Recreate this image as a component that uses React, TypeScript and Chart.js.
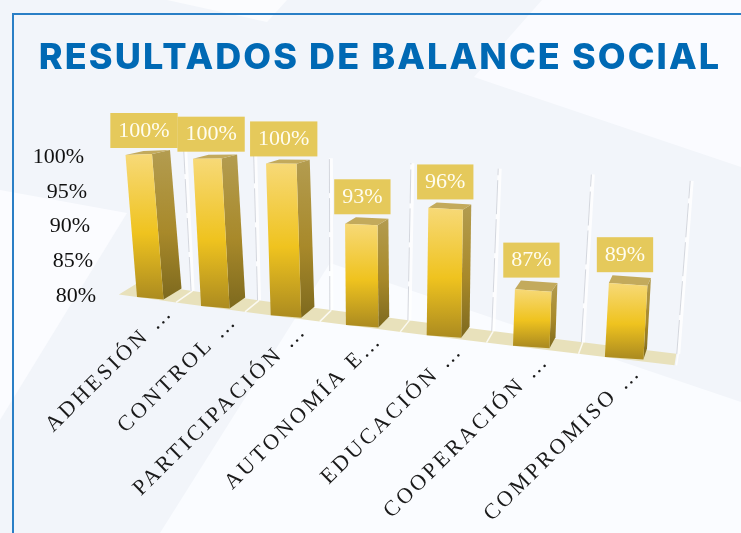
import React, { useEffect, useRef } from "react";
import { Chart, registerables } from "chart.js";

Chart.register(...registerables);

const categories = ["ADHESIÓN …", "CONTROL …", "PARTICIPACIÓN …", "AUTONOMÍA E…", "EDUCACIÓN …", "COOPERACIÓN …", "COMPROMISO …"];
const values = [100, 100, 100, 93, 96, 87, 89];
const TITLE = "RESULTADOS DE BALANCE SOCIAL";
const SERIF = '"Liberation Serif", serif';

// Perspective of the picture: u = category position on the x scale, v = 0..1 on the y scale
const baseX = (u: number) => 137 + 61.3 * u + 2.78 * u * u;
const baseY = (u: number) => 297 + 8.67 * u + 0.22 * u * u;
const unitH = (u: number) => 142 + 5.5 * u - 0.3 * u * u;
const frontW = (u: number) => 26.5 + 2 * u;
const lean = (u: number) => 11.5 - 3.4 * u;
const depthX = (u: number) => 18 - 2.4 * u;
const depthY = (v: number) => -(11 - 7 * v);

function project(u: number, f: number, v: number, d: number): [number, number] {
  const dy = f * (2.5 * (1 - v) + (-1 + 0.7 * u) * v);
  return [
    baseX(u) + f * frontW(u) - lean(u) * v + d * depthX(u),
    baseY(u) - unitH(u) * v + dy + d * depthY(v),
  ];
}

function poly(ctx: CanvasRenderingContext2D, pts: [number, number][], fill: string | CanvasGradient) {
  ctx.beginPath();
  pts.forEach((p, i) => (i ? ctx.lineTo(p[0], p[1]) : ctx.moveTo(p[0], p[1])));
  ctx.closePath();
  ctx.fillStyle = fill;
  ctx.fill();
}

const perspectivePlugin = {
  id: "perspective",
  beforeDraw(chart: any) {
    chart.ctx.letterSpacing = "2.1px";
  },
  beforeDatasetsDraw(chart: any) {
    const ctx = chart.ctx as CanvasRenderingContext2D;
    ctx.letterSpacing = "0px";
    ctx.save();
    ctx.filter = "blur(0.5px)";
    // floor
    const us: number[] = [];
    for (let k = 0; k <= 14; k++) us.push(-0.3 + (k * 7.02) / 14);
    const front = us.map((u) => [baseX(u), baseY(u)] as [number, number]);
    const back = us.slice().reverse().map((u) => [baseX(u) + depthX(u), baseY(u) - 11.5] as [number, number]);
    poly(ctx, [...front, ...back], "#e8e1bb");
    // gridlines at the category boundaries of the x scale
    const xs = chart.scales.x;
    const area = chart.chartArea;
    const cw = (area.right - area.left) / categories.length;
    xs.ticks.forEach((_: any, i: number) => {
      const k = (xs.getPixelForTick(i) + cw / 2 - area.left) / cw;
      const u = k - 0.4 + 0.02 * k;
      const fx = baseX(u) + depthX(u);
      const fy = baseY(u) - 11.5;
      const tx = fx - (lean(u) - 2);
      const ty = fy - (136 + 5.3 * k);
      ctx.lineCap = "butt";
      ctx.strokeStyle = "rgba(255,255,255,0.8)";
      ctx.lineWidth = 1.5;
      ctx.beginPath();
      ctx.moveTo(fx - depthX(u), fy + 11.5);
      ctx.lineTo(fx, fy);
      ctx.stroke();
      ctx.lineWidth = 4;
      ctx.beginPath();
      ctx.moveTo(fx, fy);
      ctx.lineTo(tx, ty);
      ctx.stroke();
      ctx.strokeStyle = "rgba(200,204,212,0.8)";
      ctx.lineWidth = 1;
      ctx.setLineDash([34, 5]);
      ctx.beginPath();
      ctx.moveTo(fx - 1.5, fy);
      ctx.lineTo(tx - 1.5, ty);
      ctx.stroke();
      ctx.setLineDash([]);
    });
    ctx.restore();
  },
  beforeDatasetDraw(chart: any) {
    const ctx = chart.ctx as CanvasRenderingContext2D;
    const area = chart.chartArea;
    const cw = (area.right - area.left) / categories.length;
    ctx.save();
    ctx.filter = "blur(0.6px)";
    chart.getDatasetMeta(0).data.forEach((bar: any) => {
      const u = (bar.x - area.left) / cw - 0.5;
      const v = (area.bottom - bar.y) / (area.bottom - area.top);
      const tl = project(u, 0, v, 0);
      const tr = project(u, 1, v, 0);
      const br = project(u, 1, 0, 0);
      const bl = project(u, 0, 0, 0);
      const btl = project(u, 0, v, 1);
      const btr = project(u, 1, v, 1);
      const bbr = project(u, 1, 0, 1);
      const fg = ctx.createLinearGradient(0, tl[1], 0, bl[1]);
      fg.addColorStop(0, "#f7d977");
      fg.addColorStop(0.55, "#efc31f");
      fg.addColorStop(1, "#ae8d20");
      const sg = ctx.createLinearGradient(0, btr[1], 0, br[1]);
      sg.addColorStop(0, "#b39c50");
      sg.addColorStop(0.55, "#a8892a");
      sg.addColorStop(1, "#7d691e");
      poly(ctx, [tr, btr, bbr, br], sg);
      poly(ctx, [tl, btl, btr, tr], "#c3aa5c");
      poly(ctx, [tl, tr, br, bl], fg);
    });
    ctx.restore();
    return false;
  },
  afterDatasetsDraw(chart: any) {
    const ctx = chart.ctx as CanvasRenderingContext2D;
    const area = chart.chartArea;
    const cw = (area.right - area.left) / categories.length;
    ctx.save();
    ctx.textBaseline = "middle";
    // value labels
    ctx.font = `22px ${SERIF}`;
    chart.getDatasetMeta(0).data.forEach((bar: any, i: number) => {
      const u = (bar.x - area.left) / cw - 0.5;
      const v = (area.bottom - bar.y) / (area.bottom - area.top);
      const tl = project(u, 0, v, 0);
      const back = project(u, 0, v, 1);
      const text = `${values[i]}%`;
      const w = ctx.measureText(text).width + 16;
      const cx = tl[0] + 18.5 - 0.4 * u;
      const bottom = back[1] - 3;
      ctx.fillStyle = "#e5c95b";
      ctx.fillRect(cx - w / 2, bottom - 35, w, 35);
      ctx.fillStyle = "#fffdf0";
      ctx.textAlign = "center";
      ctx.fillText(text, cx, bottom - 17);
    });
    // y axis tick labels, following the slanted axis
    const ys = chart.scales.y;
    ctx.fillStyle = "#111111";
    ctx.textAlign = "right";
    ys.ticks.forEach((t: any, i: number) => {
      const y = ys.getPixelForTick(i);
      const f = (y - area.top) / (area.bottom - area.top);
      ctx.fillText(t.label ?? `${t.value}%`, 84 + 12 * f, y + 1);
    });
    // x axis tick labels
    const xs = chart.scales.x;
    ctx.font = `22px ${SERIF}`;
    ctx.letterSpacing = "3px";
    ctx.fillStyle = "#1a1a1a";
    xs.ticks.forEach((_: any, i: number) => {
      const u = (xs.getPixelForTick(i) - area.left) / cw - 0.5;
      ctx.save();
      ctx.translate(baseX(u) + 33, baseY(u) + 12);
      ctx.rotate((-44.7 * Math.PI) / 180);
      ctx.fillText(xs.getLabelForValue(i), 0, 0);
      ctx.restore();
    });
    ctx.restore();
  },
};

export default function App() {
  const ref = useRef<HTMLCanvasElement>(null);
  useEffect(() => {
    const chart = new Chart(ref.current!, {
      type: "bar",
      data: {
        labels: categories,
        datasets: [{ data: values, backgroundColor: "#efc31f" }],
      },
      plugins: [perspectivePlugin],
      options: {
        animation: false,
        responsive: false,
        layout: { padding: { left: 20, right: 1, top: 37, bottom: 238 } },
        plugins: {
          legend: { display: false },
          tooltip: { enabled: false },
          title: {
            display: true,
            text: TITLE,
            color: "#0069b4",
            font: { family: "Inter, sans-serif", size: 36, weight: "800", lineHeight: 1.2 },
            padding: { top: 0, bottom: 75.8 },
          },
        },
        scales: {
          x: { display: false, grid: { display: false }, ticks: { autoSkip: false } },
          y: {
            display: false,
            min: 80,
            max: 100,
            ticks: { stepSize: 5, callback: (v: any) => `${v}%` },
            grid: { display: false },
          },
        },
      },
    } as any);
    return () => chart.destroy();
  }, []);
  return (
    <div style={{ position: "fixed", left: 0, top: 0, width: 741, height: 533, overflow: "hidden", background: "#f2f5fa" }}>
      <svg width={741} height={533} style={{ position: "absolute", left: 0, top: 0 }}>
        <polygon points="167,0 267,22 287,0" fill="#fbfcfe" />
        <polygon points="0,190 127,213 0,420" fill="#fbfcff" />
        <polygon points="330,263 741,402 741,533 160,533" fill="#fafcff" />
        <polygon points="542,0 474,77 741,167 741,0" fill="#fafbff" />
      </svg>
      <div style={{ position: "absolute", left: 12, top: 13, right: 0, bottom: 0, borderTop: "2px solid #2a7fc6", borderLeft: "2px solid #2a7fc6" }} />
      <canvas ref={ref} width={741} height={533} style={{ position: "absolute", left: 0, top: 0, display: "block" }} />
    </div>
  );
}
